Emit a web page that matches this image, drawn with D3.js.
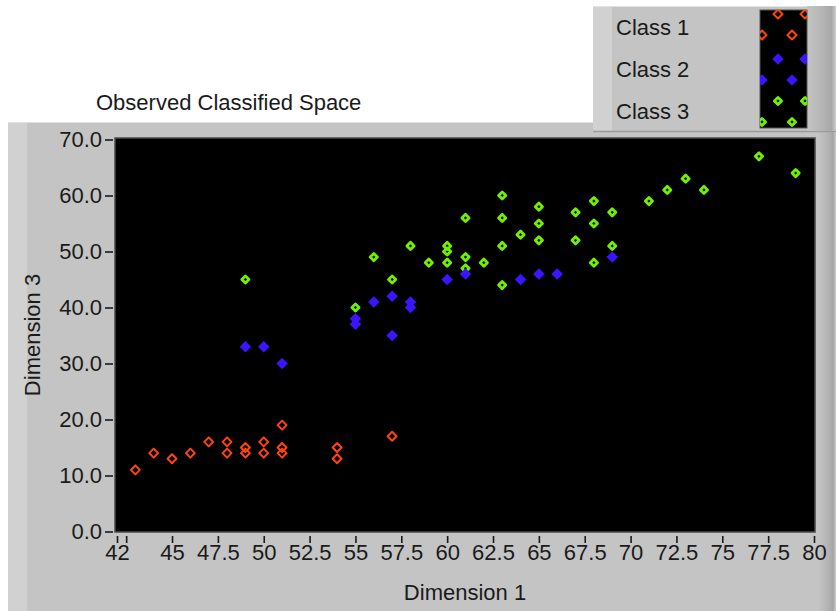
<!DOCTYPE html>
<html>
<head>
<meta charset="utf-8">
<script src="https://cdn.jsdelivr.net/npm/d3@7"></script>
<style>
  html, body { margin: 0; padding: 0; background: #ffffff; }
  svg { display: block; }
  text { font-family: "Liberation Sans", Arial, sans-serif; fill: #1a1a1a; }
</style>
</head>
<body>
<svg id="chart" width="836" height="611"></svg>
<script>
// ---- data (Dimension 1, Dimension 3) ----
const class1X = [43, 44, 45, 46, 47, 48, 48, 49, 49, 50, 50, 51, 51, 51, 54, 54, 57];
const class1Y = [11, 14, 13, 14, 16, 16, 14, 15, 14, 16, 14, 19, 15, 14, 15, 13, 17];

const class2X = [49, 50, 51, 55, 55, 56, 57, 57, 58, 58, 60, 61, 64, 65, 66, 69];
const class2Y = [33, 33, 30, 38, 37, 41, 42, 35, 41, 40, 45, 46, 45, 46, 46, 49];

const class3X = [49, 55, 56, 57, 58, 59, 60, 60, 60, 61, 61, 61, 62, 63, 63, 63, 63, 64, 65, 65, 65, 67, 67, 68, 68, 68, 69, 69, 71, 72, 73, 74, 77, 79];
const class3Y = [45, 40, 49, 45, 51, 48, 51, 50, 48, 56, 49, 47, 48, 60, 56, 51, 44, 53, 58, 55, 52, 57, 52, 59, 55, 48, 57, 51, 59, 61, 63, 61, 67, 64];

const classNames = ["Class 1", "Class 2", "Class 3"];
const xTickValues = [42, 42.5, 45, 47.5, 50, 52.5, 55, 57.5, 60, 62.5, 65, 67.5, 70, 72.5, 75, 77.5, 80];
const xTickLabels = [42, 45, 47.5, 50, 52.5, 55, 57.5, 60, 62.5, 65, 67.5, 70, 72.5, 75, 77.5, 80];
const yTickValues = [0, 10, 20, 30, 40, 50, 60, 70];

const title = "Observed Classified Space";
const xTitle = "Dimension 1";
const yTitle = "Dimension 3";

// ---- styles ----
const styles = [
  { color: "#ff4410", fill: "none", size: 40, sw: 2 },
  { color: "#3c14ff", fill: "#3c14ff", size: 66, sw: 0 },
  { color: "#72f000", fill: "none", size: 26, sw: 2.8 }
];

const svg = d3.select("#chart");
const defs = svg.append("defs");

// ---- panel (graph frame) ----
const panel = { x: 8, y: 122, w: 828, h: 489 };
svg.append("rect").attr("x", panel.x).attr("y", panel.y).attr("width", panel.w).attr("height", panel.h)
  .attr("fill", "#c4c4c4");
svg.append("rect").attr("x", panel.x).attr("y", panel.y).attr("width", 19).attr("height", panel.h)
  .attr("fill", "#d1d1d1");
svg.append("line").attr("x1", panel.x).attr("x2", panel.x + panel.w).attr("y1", panel.y + 0.5).attr("y2", panel.y + 0.5)
  .attr("stroke", "#e0e0e0");
const grad = defs.append("linearGradient").attr("id", "rightEdge");
grad.append("stop").attr("offset", "0%").attr("stop-color", "#c4c4c4");
grad.append("stop").attr("offset", "55%").attr("stop-color", "#b4b4b4");
grad.append("stop").attr("offset", "85%").attr("stop-color", "#a6a6a6");
grad.append("stop").attr("offset", "100%").attr("stop-color", "#cfcfcf");
svg.append("rect").attr("x", 818).attr("y", panel.y).attr("width", 18).attr("height", panel.h)
  .attr("fill", "url(#rightEdge)");

// ---- scales ----
const plot = { left: 115, top: 138, right: 815, bottom: 532 };
const x = d3.scaleLinear().domain([42, 80]).range([117, 814]);
const y = d3.scaleLinear().domain([0, 70]).range([531.5, 139.5]);

// plot background
svg.append("rect").attr("x", plot.left).attr("y", plot.top)
  .attr("width", plot.right - plot.left).attr("height", plot.bottom - plot.top)
  .attr("fill", "#000000").attr("stroke", "#4a4a4a").attr("stroke-width", 1.5);

// ---- axes ----
const yAxis = d3.axisLeft(y).tickValues(yTickValues).tickFormat(d3.format(".1f")).tickSize(8).tickPadding(3);
const gy = svg.append("g").attr("transform", `translate(${plot.left - 2},0)`).call(yAxis);
gy.select(".domain").remove();
gy.selectAll(".tick line").attr("stroke", "#1a1a1a").attr("stroke-width", 1.6);
gy.selectAll(".tick text").attr("font-size", 22).attr("fill", "#1a1a1a")
  .attr("font-family", '"Liberation Sans", Arial, sans-serif');

const xAxis = d3.axisBottom(x).tickValues(xTickValues)
  .tickFormat(d => xTickLabels.includes(d) ? d3.format("~g")(d) : "")
  .tickSize(7).tickPadding(1);
const gx = svg.append("g").attr("transform", `translate(0,${plot.bottom + 4})`).call(xAxis);
gx.select(".domain").remove();
gx.selectAll(".tick line").attr("stroke", "#1a1a1a").attr("stroke-width", 1.6);
gx.selectAll(".tick text").attr("font-size", 22).attr("fill", "#1a1a1a")
  .attr("font-family", '"Liberation Sans", Arial, sans-serif');

// axis titles
svg.append("text").attr("x", (plot.left + plot.right) / 2).attr("y", 600)
  .attr("text-anchor", "middle").attr("font-size", 22).text(xTitle);
svg.append("text").attr("transform", `translate(40,${(plot.top + plot.bottom) / 2}) rotate(-90)`)
  .attr("text-anchor", "middle").attr("font-size", 22).text(yTitle);

// chart title
svg.append("text").attr("x", 96).attr("y", 110).attr("font-size", 22).text(title);

// ---- points ----
const symbol = st => d3.symbol().type(d3.symbolSquare).size(st.size)();
function drawMarks(g, pts, st) {
  g.selectAll(null).data(pts).join("path")
    .attr("d", symbol(st))
    .attr("transform", d => `translate(${d[0]},${d[1]}) rotate(45)`)
    .attr("fill", st.fill === "none" ? "none" : st.fill)
    .attr("stroke", st.sw > 0 ? st.color : "none")
    .attr("stroke-width", st.sw)
    .attr("stroke-linejoin", "round");
}
const toPts = (xs, ys) => xs.map((v, i) => [x(v), y(ys[i])]);
const gp = svg.append("g");
drawMarks(gp.append("g"), toPts(class1X, class1Y), styles[0]);
drawMarks(gp.append("g"), toPts(class3X, class3Y), styles[2]);
drawMarks(gp.append("g"), toPts(class2X, class2Y), styles[1]);

// ---- legend ----
const lg = svg.append("g");
const L = { x: 593, y: 6, w: 243, h: 126 };
lg.append("rect").attr("x", L.x).attr("y", L.y).attr("width", L.w).attr("height", L.h).attr("fill", "#c4c4c4");
lg.append("rect").attr("x", L.x).attr("y", L.y).attr("width", 19).attr("height", L.h).attr("fill", "#d1d1d1");
lg.append("line").attr("x1", L.x).attr("x2", L.x + L.w).attr("y1", L.y + 0.5).attr("y2", L.y + 0.5).attr("stroke", "#e2e2e2");
lg.append("line").attr("x1", L.x).attr("x2", L.x + L.w).attr("y1", L.y + L.h - 0.5).attr("y2", L.y + L.h - 0.5).attr("stroke", "#9a9a9a").attr("stroke-width", 1.5);
lg.append("rect").attr("x", 807).attr("y", L.y).attr("width", 29).attr("height", L.h - 1).attr("fill", "url(#rightEdge)");

const sw = { x: 760, y: 10, w: 47, h: 118 };
defs.append("clipPath").attr("id", "swClip")
  .append("rect").attr("x", sw.x).attr("y", sw.y).attr("width", sw.w).attr("height", sw.h);
lg.append("rect").attr("x", sw.x).attr("y", sw.y).attr("width", sw.w).attr("height", sw.h)
  .attr("fill", "#000").attr("stroke", "#555").attr("stroke-width", 1);
const swG = lg.append("g").attr("clip-path", "url(#swClip)");
const rowTop = [14, 59, 101];
classNames.forEach((name, i) => {
  const st = styles[i];
  const pts = [[778, rowTop[i]], [805, rowTop[i]], [762, rowTop[i] + 21], [792, rowTop[i] + 21]];
  drawMarks(swG.append("g"), pts, st);
  lg.append("text").attr("x", 616).attr("y", 35 + i * 42).attr("font-size", 22).text(name);
});
</script>
</body>
</html>
